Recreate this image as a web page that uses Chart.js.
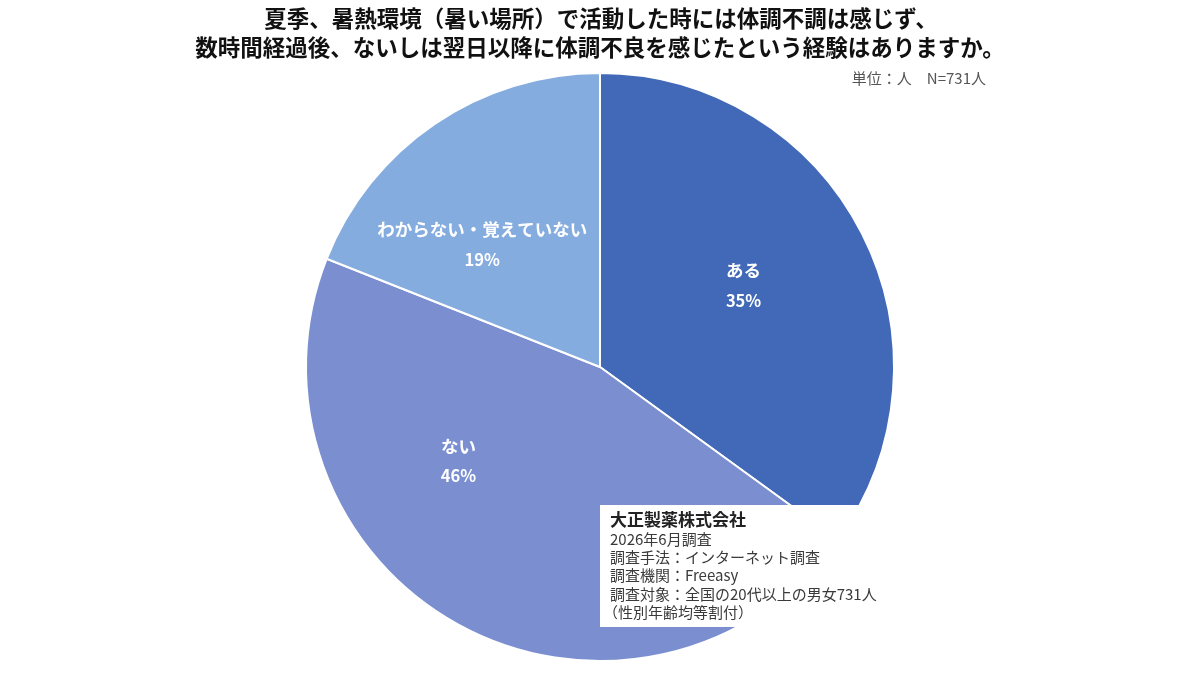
<!DOCTYPE html>
<html lang="ja">
<head>
<meta charset="utf-8">
<title>体調不良の経験</title>
<script src="https://cdn.jsdelivr.net/npm/chart.js@4.4.1/dist/chart.umd.min.js"></script>
<style>
  html, body { margin: 0; padding: 0; background: #fff; }
  #wrap { position: relative; width: 1200px; height: 676px; }
</style>
</head>
<body>
<div id="wrap"><canvas id="pie" width="1200" height="676"></canvas></div>
<script>
// data
var labels = ['ある', 'ない', 'わからない・覚えていない'];
var shares = [35, 46, 19];
var sliceColors = ['#4169b7', '#7a8ed0', '#85acde'];

var titleLines = [
    '夏季、暑熱環境（暑い場所）で活動した時には体調不調は感じず、',
    '数時間経過後、ないしは翌日以降に体調不良を感じたという経験はありますか。'
];
var unitNote = '単位：人　N=731人';
var noteHead = '大正製薬株式会社';
var noteLines = [
    '2026年6月調査',
    '調査手法：インターネット調査',
    '調査機関：Freeasy',
    '調査対象：全国の20代以上の男女731人',
    '（性別年齢均等割付）'
];

// label placement (angle shift in degrees, radius fraction)
var labelShift = [-2, 27, -9];
var labelRadius = 0.57;

var FONT = '"Noto Sans CJK JP", "Noto Sans", sans-serif';

var textPlugin = {
    id: 'texts',
    afterDraw: function(chart) {
        var ctx = chart.ctx;
        ctx.save();

        // title
        ctx.fillStyle = '#111';
        ctx.textAlign = 'center';
        ctx.textBaseline = 'middle';
        ctx.font = 'bold 22.5px ' + FONT;
        ctx.fillText(titleLines[0], 601, 18);
        ctx.fillText(titleLines[1], 600, 47);

        // unit
        ctx.fillStyle = '#555';
        ctx.textAlign = 'right';
        ctx.font = '15px ' + FONT;
        ctx.fillText(unitNote, 986, 78);

        // slice labels
        var meta = chart.getDatasetMeta(0);
        ctx.textAlign = 'center';
        ctx.fillStyle = '#fff';
        meta.data.forEach(function(arc, i) {
            var p = arc.getProps(['x', 'y', 'startAngle', 'endAngle', 'outerRadius'], true);
            var mid = (p.startAngle + p.endAngle) / 2 + labelShift[i] * Math.PI / 180;
            var r = p.outerRadius * labelRadius;
            var cx = p.x + Math.cos(mid) * r;
            var cy = p.y + Math.sin(mid) * r;
            ctx.font = 'bold 17.5px ' + FONT;
            ctx.fillText(labels[i], cx - 3, cy - 15);
            ctx.font = 'bold 16.5px ' + FONT;
            ctx.fillText(shares[i] + '%', cx - 3, cy + 15);
        });

        // note box
        ctx.fillStyle = '#fff';
        ctx.fillRect(600, 505, 326, 122);
        ctx.fillStyle = '#222';
        ctx.textAlign = 'left';
        ctx.font = 'bold 17px ' + FONT;
        ctx.fillText(noteHead, 610, 520);
        ctx.font = '15px ' + FONT;
        ctx.fillStyle = '#3a3a3a';
        noteLines.forEach(function(line, i) {
            ctx.fillText(line, i == 4 ? 603 : 610, 539 + i * 18.3);
        });

        ctx.restore();
    }
};

var chart = new Chart(document.getElementById('pie').getContext('2d'), {
    type: 'pie',
    data: {
        labels: labels,
        datasets: [{
            data: shares,
            backgroundColor: sliceColors,
            borderColor: '#ffffff',
            borderWidth: 2
        }]
    },
    options: {
        responsive: false,
        animation: false,
        layout: { padding: { top: 72, bottom: 14 } },
        plugins: {
            legend: { display: false },
            tooltip: { enabled: false },
            title: { display: false }
        }
    },
    plugins: [textPlugin]
});
</script>
</body>
</html>
